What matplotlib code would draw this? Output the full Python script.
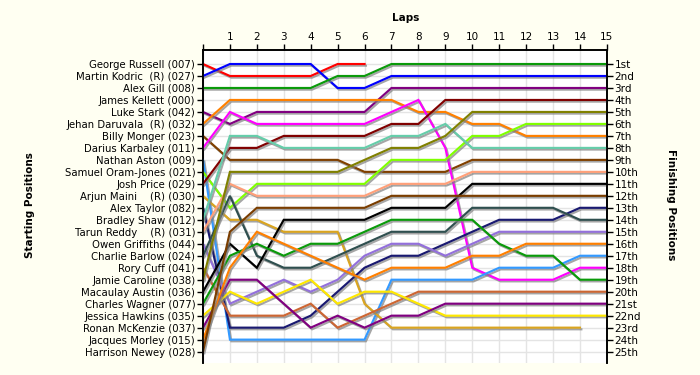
import numpy as np
import matplotlib
matplotlib.use("Agg")
import matplotlib.pyplot as plt
import matplotlib.patheffects as pe

nan = np.nan
laps = list(range(16))

drivers = ["George Russell (007)", "Martin Kodric  (R) (027)", "Alex Gill (008)",
           "James Kellett (000)", "Luke Stark (042)", "Jehan Daruvala  (R) (032)",
           "Billy Monger (023)", "Darius Karbaley (011)", "Nathan Aston (009)",
           "Samuel Oram-Jones (021)", "Josh Price (029)", "Arjun Maini    (R) (030)",
           "Alex Taylor (082)", "Bradley Shaw (012)", "Tarun Reddy    (R) (031)",
           "Owen Griffiths (044)", "Charlie Barlow (024)", "Rory Cuff (041)",
           "Jamie Caroline (038)", "Macaulay Austin (036)", "Charles Wagner (077)",
           "Jessica Hawkins (035)", "Ronan McKenzie (037)", "Jacques Morley (015)",
           "Harrison Newey (028)"]

finish_labels = ["1st", "2nd", "3rd"] + [f"{i}th" for i in range(4, 21)] + \
                ["21st", "22nd", "23rd", "24th", "25th"]

# position at end of each lap (lap 0 = grid)
russell  = [1, 2, 2, 2, 2, 1, 1, nan, nan, nan, nan, nan, nan, nan, nan, nan]
kodric   = [2, 1, 1, 1, 1, 3, 3, 2, 2, 2, 2, 2, 2, 2, 2, 2]
gill     = [3, 3, 3, 3, 3, 2, 2, 1, 1, 1, 1, 1, 1, 1, 1, 1]
stark    = [5, 6, 5, 5, 5, 5, 5, 3, 3, 3, 3, 3, 3, 3, 3, 3]
daruvala = [6, 4, 4, 4, 4, 4, 4, 4, 5, 5, 6, 6, 7, 7, 7, 7]
monger   = [7, 9, 9, 9, 9, 9, 10, 10, 10, 10, 9, 9, 9, 9, 9, 9]
karbaley = [8, 5, 6, 6, 6, 6, 6, 5, 4, 8, 18, 19, 19, 19, 18, 18]
aston    = [9, 24, 24, 24, 24, 24, 24, 19, 19, 19, 19, 18, 18, 18, 17, 17]
oram     = [10, 13, 11, 11, 11, 11, 11, 9, 9, 9, 7, 7, 6, 6, 6, 6]
price    = [11, 8, 8, 7, 7, 7, 7, 6, 6, 4, 4, 4, 4, 4, 4, 4]
maini    = [12, 14, 14, 15, 15, 15, 21, 23, 23, 23, 23, 23, 23, 23, 23, nan]
taylor   = [13, 23, 23, 23, 22, 20, 18, 17, 17, 16, 15, 14, 14, 14, 13, 13]
shaw     = [14, 7, 7, 8, 8, 8, 8, 7, 7, 6, 8, 8, 8, 8, 8, 8]
reddy    = [15, 11, 12, 12, 12, 12, 12, 11, 11, 11, 10, 10, 10, 10, 10, 10]
griffiths = [16, 21, 20, 19, 20, 19, 17, 16, 16, 17, 16, 15, 15, 15, 15, 15]
barlow   = [17, 12, 17, 18, 18, 17, 16, 15, 15, 15, 13, 13, 13, 13, 14, 14]
cuff     = [18, 22, 22, 22, 21, 23, 22, 21, 20, 20, 20, 20, 20, 20, 20, 20]
caroline = [19, 10, 10, 10, 10, 10, 9, 8, 8, 7, 5, 5, 5, 5, 5, 5]
austin   = [20, 16, 18, 14, 14, 14, 14, 13, 13, 13, 11, 11, 11, 11, 11, 11]
wagner   = [21, 17, 16, 17, 16, 16, 15, 14, 14, 14, 14, 16, 17, 17, 19, 19]
hawkins  = [22, 20, 21, 20, 19, 21, 20, 20, 21, 22, 22, 22, 22, 22, 22, 22]
mckenzie = [23, 19, 19, 21, 23, 22, 23, 22, 22, 21, 21, 21, 21, 21, 21, 21]
morley   = [24, 18, 15, 16, 17, 18, 19, 18, 18, 18, 17, 17, 16, 16, 16, 16]
newey    = [25, 15, 13, 13, 13, 13, 13, 12, 12, 12, 12, 12, 12, 12, 12, 12]

series = [
    (russell, "#FF0000"), (kodric, "#0000FF"), (gill, "#0A9A0A"),
    (stark, "#800080"), (daruvala, "#FF8000"), (monger, "#804000"),
    (karbaley, "#FF00FF"), (aston, "#3399FF"), (oram, "#80FF00"),
    (price, "#800000"), (maini, "#DAA520"), (taylor, "#191970"),
    (shaw, "#66CDAA"), (reddy, "#FFA07A"), (griffiths, "#9370DB"),
    (barlow, "#2F4F4F"), (cuff, "#CD6633"), (caroline, "#808000"),
    (austin, "#000000"), (wagner, "#0A9A0A"), (hawkins, "#FFE800"),
    (mckenzie, "#800080"), (morley, "#FF7F00"), (newey, "#7A3D00"),
]

bg = "#FFFFF2"
fig = plt.figure(figsize=(7, 3.75), dpi=100, facecolor=bg)
ax = fig.add_axes([0.29, 0.032, 0.577, 0.835])
ax.set_facecolor("white")

shadow = [pe.SimpleLineShadow(offset=(1.0, -1.2), shadow_color="#808080", alpha=0.7), pe.Normal()]
for vals, col in series:
    ax.plot(laps, vals, color=col, lw=1.55, solid_joinstyle="miter",
            path_effects=shadow, zorder=3)

ax.set_xlim(0, 15)
ax.set_ylim(25.95, -0.18)

ax.xaxis.tick_top()
ax.set_xticks(laps)
ax.set_xticklabels([""] + [str(i) for i in laps[1:]], fontsize=7.5)
ax.set_yticks(range(1, 26))
ax.set_yticklabels(drivers, fontsize=7.3)
ax.tick_params(axis="both", length=4, width=1, color="black", pad=1.5)
ax.grid(True, color="#E4E4E4", lw=1, zorder=0)
ax.set_axisbelow(True)

ax2 = ax.twinx()
ax2.set_ylim(ax.get_ylim())
ax2.set_yticks(range(1, 26))
ax2.set_yticklabels(finish_labels, fontsize=7.5)
ax2.tick_params(axis="y", length=4, width=1, pad=1.5)

for a in (ax, ax2):
    a.spines["bottom"].set_visible(False)
    for s in ("top", "left", "right"):
        a.spines[s].set_linewidth(1.2)

fig.text(0.579, 0.952, "Laps", fontsize=7.5, fontweight="bold", ha="center", va="center")
fig.text(0.043, 0.453, "Starting Positions", fontsize=7.5, fontweight="bold",
         rotation=90, ha="center", va="center")
fig.text(0.958, 0.453, "Finishing Positions", fontsize=7.5, fontweight="bold",
         rotation=-90, ha="center", va="center")

fig.savefig("out.png", dpi=100, facecolor=bg)
